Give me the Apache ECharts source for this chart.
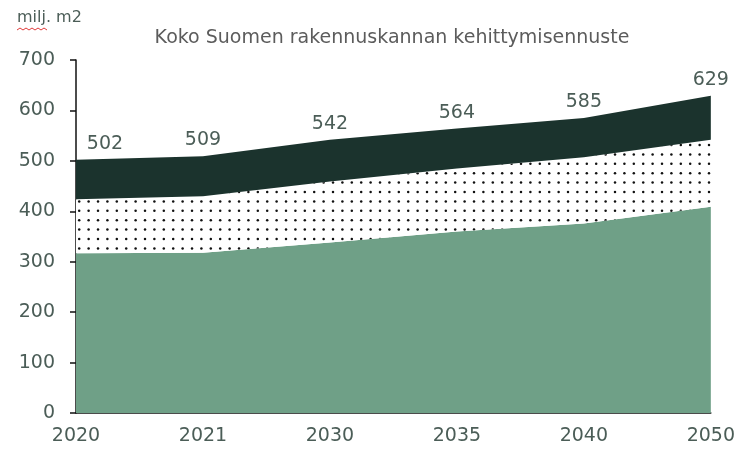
<!DOCTYPE html>
<html>
<head>
<meta charset="utf-8">
<script src="https://cdn.jsdelivr.net/npm/echarts@6/dist/echarts.min.js"></script>
<style>
  html, body { margin: 0; padding: 0; background: #fff; }
  #chart { width: 738px; height: 452px; }
</style>
</head>
<body>
<div id="chart"></div>
<script>
  const years = ['2020', '2021', '2030', '2035', '2040', '2050']
  // kerrokset alhaalta ylos, milj. m2
  const greenLayer = [317, 318, 338, 360, 376, 409]
  const dottedLayer = [107, 112, 121, 125, 131, 133]
  const darkLayer = [78, 79, 83, 79, 78, 87]

  const font = '"DejaVu Sans", "Noto Sans", sans-serif'
  const labelColor = '#4b5d57'

  // pisterasteri keskimmaiselle alueelle, 5x5 pistetta 9.4 px valein
  function dotPattern () {
    const step = 9.4
    const c = document.createElement('canvas')
    c.width = 47
    c.height = 47
    const ctx = c.getContext('2d')
    ctx.fillStyle = '#ffffff'
    ctx.fillRect(0, 0, 47, 47)
    ctx.fillStyle = '#111111'
    for (let i = 0; i < 5; i++) {
      for (let j = 0; j < 5; j++) {
        ctx.beginPath()
        ctx.arc(4 + i * step, 4 + j * step, 1.25, 0, Math.PI * 2)
        ctx.fill()
      }
    }
    return c
  }

  const chart = echarts.init(document.getElementById('chart'))
  const option = {
    animation: false,
    title: [
      {
        text: 'Koko Suomen rakennuskannan kehittymisennuste',
        left: 392,
        top: 29,
        padding: 0,
        textAlign: 'center',
        textStyle: { fontFamily: font, fontSize: 19, fontWeight: 'normal', color: '#5c5c5c' }
      },
      {
        text: 'milj. m2',
        left: 17,
        top: 10,
        padding: 0,
        textStyle: { fontFamily: font, fontSize: 16, fontWeight: 'normal', color: '#4b5d57' }
      }
    ],
    graphic: [
      {
        type: 'polyline',
        shape: { points: [[17, 30], [20, 28], [23, 30], [26, 28], [29, 30], [32, 28], [35, 30], [38, 28], [41, 30], [44, 28], [47, 30]] },
        style: { stroke: '#e03a3a', lineWidth: 1, fill: null }
      }
    ],
    grid: { left: 76, right: 25, top: 60, bottom: 39 },
    xAxis: {
      type: 'category',
      boundaryGap: false,
      data: years,
      axisLine: { lineStyle: { color: '#111', width: 1.5 } },
      axisTick: { show: false },
      axisLabel: { fontFamily: font, fontSize: 19, color: labelColor, margin: 14 }
    },
    yAxis: {
      type: 'value',
      min: 0,
      max: 700,
      interval: 100,
      axisLine: { show: true, lineStyle: { color: '#111', width: 1.5 } },
      axisTick: { show: true, length: 6, lineStyle: { color: '#111', width: 1.5 } },
      splitLine: { show: false },
      axisLabel: { fontFamily: font, fontSize: 19, color: labelColor, margin: 21 }
    },
    series: [
      {
        type: 'line',
        stack: 'total',
        data: greenLayer,
        symbol: 'none',
        lineStyle: { width: 0 },
        areaStyle: { color: '#6fa087', opacity: 1 }
      },
      {
        type: 'line',
        stack: 'total',
        data: dottedLayer,
        symbol: 'none',
        lineStyle: { width: 0 },
        areaStyle: { color: { image: dotPattern(), repeat: 'repeat' }, opacity: 1 }
      },
      {
        type: 'line',
        stack: 'total',
        data: darkLayer.map((v, i) => i === 0
          ? { value: v, label: { offset: [29, 0] } }
          : v),
        symbol: 'circle',
        symbolSize: 1,
        showSymbol: true,
        itemStyle: { color: 'rgba(0,0,0,0)' },
        lineStyle: { width: 0 },
        areaStyle: { color: '#1b332d', opacity: 1 },
        label: {
          show: true,
          position: 'top',
          distance: 6,
          fontFamily: font,
          fontSize: 19,
          color: labelColor,
          formatter: p => greenLayer[p.dataIndex] + dottedLayer[p.dataIndex] + darkLayer[p.dataIndex]
        }
      }
    ]
  }
  chart.setOption(option)
</script>
</body>
</html>
